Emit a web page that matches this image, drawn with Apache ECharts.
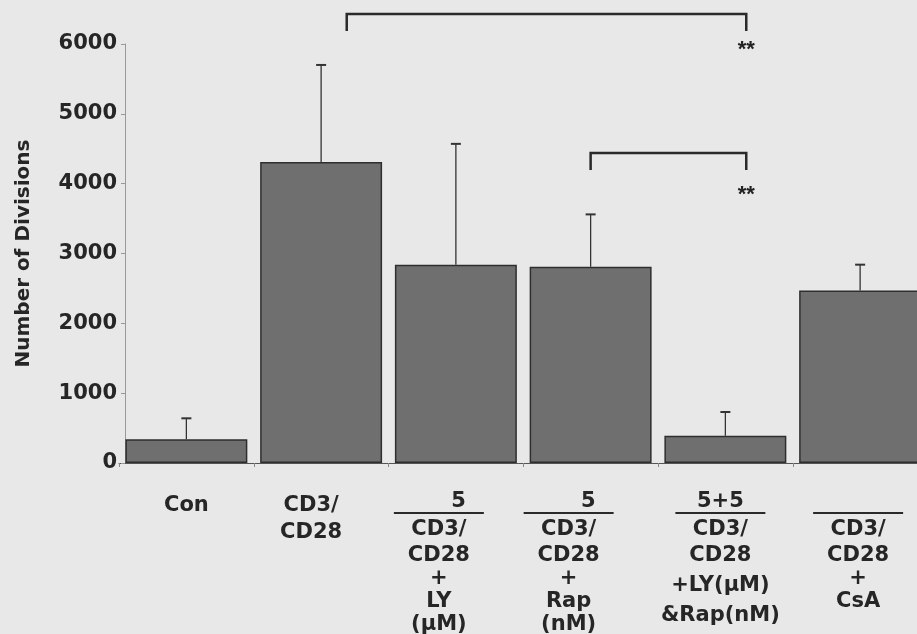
<!DOCTYPE html>
<html><head><meta charset="utf-8">
<script src="https://cdn.jsdelivr.net/npm/echarts@6/dist/echarts.min.js"></script>
<style>html,body{margin:0;padding:0;background:#e8e8e8}#c{width:917px;height:634px}</style>
</head><body><div id="c"></div>
<script>
// ---- data ----
const categories = ['Con', 'CD3/CD28', 'CD3/CD28 + LY', 'CD3/CD28 + Rap', 'CD3/CD28 + LY & Rap', 'CD3/CD28 + CsA'];
const doseLabels = ['', '', '5', '5', '5+5', ''];
const treatmentLabels = [
  ['Con'],
  ['CD3/', 'CD28'],
  ['CD3/', 'CD28', '+', 'LY', '(µM)'],
  ['CD3/', 'CD28', '+', 'Rap', '(nM)'],
  ['CD3/', 'CD28', '+LY(µM)', '&Rap(nM)'],
  ['CD3/', 'CD28', '+', 'CsA']
];
const meanDivisions = [340, 4310, 2840, 2810, 390, 2470];
const sdDivisions = [300, 1390, 1730, 750, 340, 370];
const yMin = 0, yMax = 6000, yStep = 1000;
const yTitle = 'Number of Divisions';
const comparisons = [
  { from: 'CD3/CD28', to: 'CD3/CD28 + LY & Rap', label: '**' },
  { from: 'CD3/CD28 + Rap', to: 'CD3/CD28 + LY & Rap', label: '**' }
];

// ---- drawing ----
const TXT = '#262626';
const FONT = 'DejaVu Sans';
const labelShift = [0, 10, 17, 22, 5, 2];
const base = { fontFamily: FONT, fontWeight: 'bold', fontSize: 21, color: TXT };

const chart = echarts.init(document.getElementById('c'), null, { renderer: 'canvas' });
const option = {
  animation: false,
  backgroundColor: '#e8e8e8',
  grid: { left: 119, width: 808.5, top: 44, bottom: 171, containLabel: false, outerBoundsMode: 'none' },
  xAxis: {
    type: 'category',
    data: categories.map((c, i) => ({ value: c, textStyle: { padding: [0, 2 * labelShift[i], 0, 0] } })),
    axisLine: { show: true, lineStyle: { color: '#555', width: 1 } },
    axisTick: { show: true, length: 4, lineStyle: { color: '#888' } },
    axisLabel: {
      interval: 0, margin: 31, verticalAlign: 'top',
      formatter: (v, idx) => {
        const dose = doseLabels[idx];
        const lines = treatmentLabels[idx];
        if (idx < 2) return lines.map((l, k) => k === 0 ? `{t|${l}}` : `{t2|${l}}`).join('\n');
        const top = dose.length > 1 ? `{nc|${dose}}` : `{n|${dose || ' '}}`;
        const rows = lines.map((l, k) => {
          if (k === 0) return `{t3|${l}}`;
          if (l.length > 5) return k === 2 ? `{t4|${l}}` : `{t5|${l}}`;
          return `{t|${l}}`;
        });
        return [top, '{ln| }'].concat(rows).join('\n');
      },
      rich: {
        t: Object.assign({}, base, { lineHeight: 23 }),
        t2: Object.assign({}, base, { lineHeight: 32 }),
        t3: Object.assign({}, base, { lineHeight: 28 }),
        t4: Object.assign({}, base, { lineHeight: 38 }),
        t5: Object.assign({}, base, { lineHeight: 22 }),
        n: Object.assign({}, base, { lineHeight: 16, align: 'right', padding: [0, 18, 0, 0] }),
        nc: Object.assign({}, base, { lineHeight: 16 }),
        ln: { width: 90, height: 2, backgroundColor: '#2a2a2a', lineHeight: 6, fontSize: 2 }
      }
    }
  },
  yAxis: {
    type: 'value', min: yMin, max: yMax, interval: yStep, offset: -6,
    name: yTitle, nameLocation: 'middle', nameRotate: 90, nameGap: 91,
    nameTextStyle: { fontFamily: FONT, fontWeight: 'bold', fontSize: 20, color: TXT },
    axisLine: { show: true, lineStyle: { color: '#999', width: 1 } },
    axisTick: { show: true, length: 4, lineStyle: { color: '#999' } },
    splitLine: { show: false },
    axisLabel: { fontFamily: FONT, fontWeight: 'bold', fontSize: 21, color: TXT, margin: 8,
      formatter: v => String(v) }
  },
  series: [
    {
      type: 'bar', data: meanDivisions, barCategoryGap: '9.5%',
      itemStyle: { color: '#6f6f6f', borderColor: '#2e2e2e', borderWidth: 1.5 }
    },
    {
      type: 'custom', z: 5,
      data: meanDivisions.map((m, i) => [i, m, m + sdDivisions[i]]),
      renderItem: (params, api) => {
        const x = api.coord([api.value(0), api.value(1)])[0];
        const y0 = api.coord([api.value(0), api.value(1)])[1];
        const y1 = api.coord([api.value(0), api.value(2)])[1];
        return {
          type: 'group', children: [
            { type: 'line', shape: { x1: x, y1: y0, x2: x, y2: y1 }, style: { stroke: '#333', lineWidth: 1.3 } },
            { type: 'line', shape: { x1: x - 5, y1: y1, x2: x + 5, y2: y1 }, style: { stroke: '#333', lineWidth: 2 } }
          ]
        };
      }
    }
  ]
};
chart.setOption(option);

// significance brackets (positions derived from the axes)
const bracketLayout = [
  { fromOff: 0.19, toOff: 0.155, level: 6430, drop: 245, star: 5914 },
  { fromOff: 0.0, toOff: 0.155, level: 4440, drop: 245, star: 3843 }
];
const cx = name => chart.convertToPixel({ xAxisIndex: 0 }, name);
const bw = cx(categories[1]) - cx(categories[0]);
const py = v => chart.convertToPixel({ yAxisIndex: 0 }, v);
const graphics = [];
comparisons.forEach((c, k) => {
  const L = bracketLayout[k];
  const xa = cx(c.from) + L.fromOff * bw;
  const xb = cx(c.to) + L.toOff * bw;
  const yt = py(L.level), yd = py(L.level - L.drop);
  graphics.push({ type: 'polyline', shape: { points: [[xa, yd], [xa, yt], [xb, yt], [xb, yd]] },
    style: { stroke: '#2a2a2a', lineWidth: 2.5, fill: null } });
  graphics.push({ type: 'text', x: xb, y: py(L.star),
    style: { text: c.label, font: 'bold 22px "Liberation Sans"', fill: '#222', align: 'center', verticalAlign: 'middle' } });
});
chart.setOption({ graphic: graphics });
</script></body></html>
